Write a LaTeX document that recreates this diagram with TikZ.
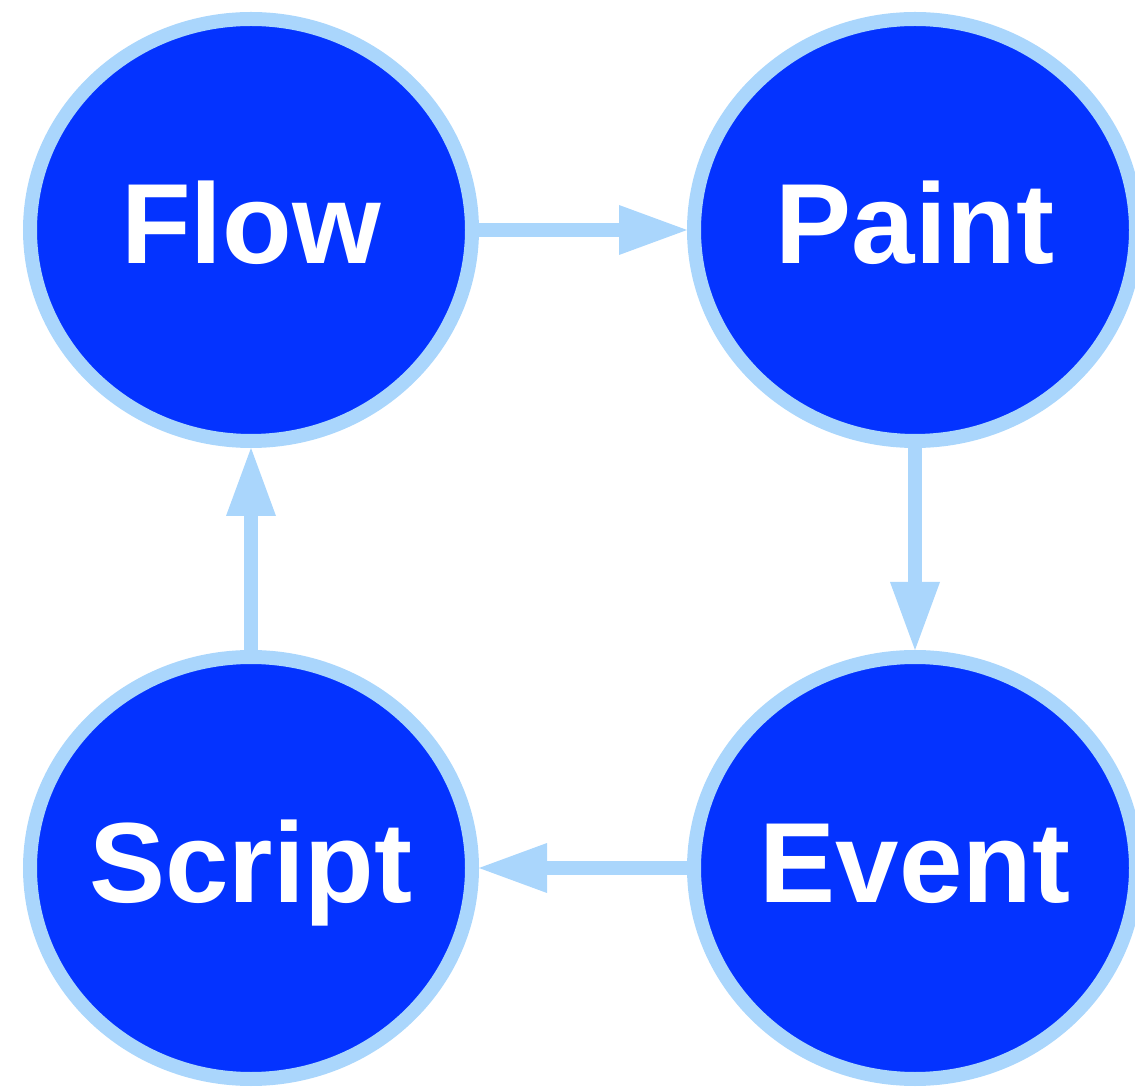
\documentclass[tikz,border=0pt]{standalone}
\usepackage{fontspec}
\setmainfont{Liberation Sans}
\usetikzlibrary{shapes.geometric,arrows.meta}
\definecolor{nodeblue}{HTML}{0433FF}
\definecolor{lightblue}{HTML}{AAD6FC}
\tikzset{
  state/.style={ellipse, draw=lightblue, line width=14pt, fill=nodeblue,
    minimum width=442pt, minimum height=422pt, inner ysep=0pt, inner xsep=-40pt,
    text=white, font=\fontsize{114}{120}\selectfont\bfseries,
    text height=82pt, text depth=14pt},
  conn/.style={draw=lightblue, line width=14pt,
    -{Triangle[length=68pt,width=50pt,line width=0pt]}}
}
\begin{document}
\begin{tikzpicture}[x=1pt,y=1pt]
\useasboundingbox (0,0) rectangle (1135,1088);
\node[state] (flow) at (251,858) {Flow};
\node[state] (paint) at (915,858) {Paint};
\node[state] (event) at (915,220) {Event};
\node[state] (script) at (251,220) {Script};
\draw[conn] (flow) -- (paint);
\draw[conn] (paint) -- (event);
\draw[conn] (event) -- (script);
\draw[conn] (script) -- (flow);
\end{tikzpicture}
\end{document}
